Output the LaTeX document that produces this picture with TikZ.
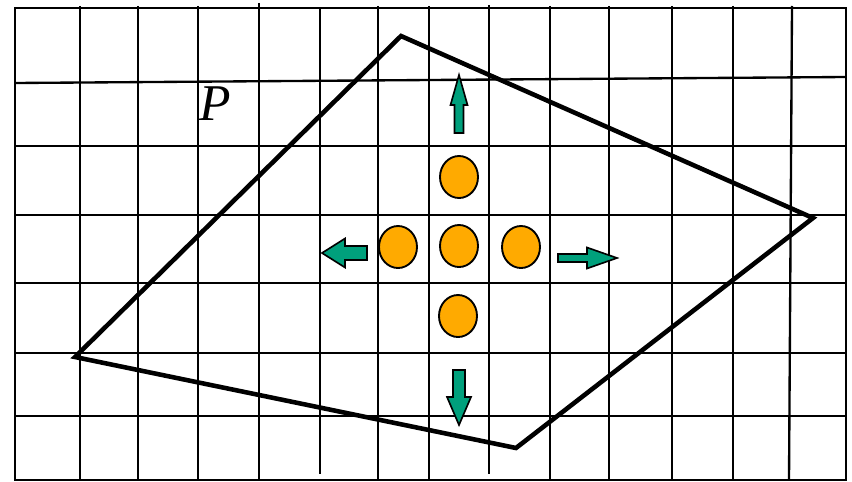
\documentclass[tikz,border=0pt]{standalone}
\usepackage{fontspec}
\setmainfont{Liberation Serif}
\usepackage{tikz}
\usetikzlibrary{shapes.geometric}
\definecolor{dotorange}{HTML}{FFAA00}
\definecolor{pushgreen}{HTML}{00A07C}

\begin{document}
\begin{tikzpicture}[x=0.03cm,y=-0.03cm,
  gridline/.style={draw=black,line width=2pt},
  quad/.style={draw=black,line width=3.9pt,line join=miter},
  dot/.style={draw=black,fill=dotorange,ellipse,line width=1.6pt,
              minimum width=1.14cm,minimum height=1.26cm,inner sep=0pt},
  pusharrow/.style={draw=black,fill=pushgreen,line width=1.4pt,line join=miter}]
% tail x, tail y, angle, length, head length, head width, shaft width
\newcommand{\pushfig}[7]{\begin{scope}[shift={(#1,#2)},rotate=#3]
  \draw[pusharrow] (0,-#7/2) -- (#4-#5,-#7/2) -- (#4-#5,-#6/2) -- (#4,0)
    -- (#4-#5,#6/2) -- (#4-#5,#7/2) -- (0,#7/2) -- cycle;\end{scope}}

\useasboundingbox[fill=white] (0,0) rectangle (852,481);

% grid
\foreach \gx in {80,138,198,378,429,550,609,672,733}
  \draw[gridline] (\gx,6) -- (\gx,480);
\draw[gridline] (259,3) -- (259,480);
\draw[gridline] (320,8) -- (320,474);
\draw[gridline] (489,5) -- (489,474);
\draw[gridline] (792,6) -- (789,480);
\foreach \gy in {146,215,283,353,416}
  \draw[gridline] (15,\gy) -- (846,\gy);
\draw[gridline] (15,83) -- (846,77);
\draw[gridline] (15,8) rectangle (846,480);

% polygon
\coordinate (qtop) at (401,36);
\coordinate (qright) at (813,218);
\coordinate (qbottom) at (516,448);
\coordinate (qleft) at (75,357);
\draw[quad] (qtop) -- (qright) -- (qbottom) -- (qleft) -- cycle;
\node[font=\fontsize{44}{44}\selectfont\itshape] (plabel) at (215,104) {P};

% dots
\node[dot] (dtop) at (459,177) {};
\node[dot] (dmid) at (459,246) {};
\node[dot] (dleft) at (398,247) {};
\node[dot] (dright) at (521,247) {};
\node[dot] (dbottom) at (458,316) {};

% arrows
\pushfig{459}{133}{90}{58}{30}{17}{9}
\pushfig{367}{253}{180}{45}{23}{29}{14}
\pushfig{558}{258}{0}{59}{30}{21}{8}
\pushfig{459}{370}{-90}{55}{28}{24}{12}
\end{tikzpicture}
\end{document}
